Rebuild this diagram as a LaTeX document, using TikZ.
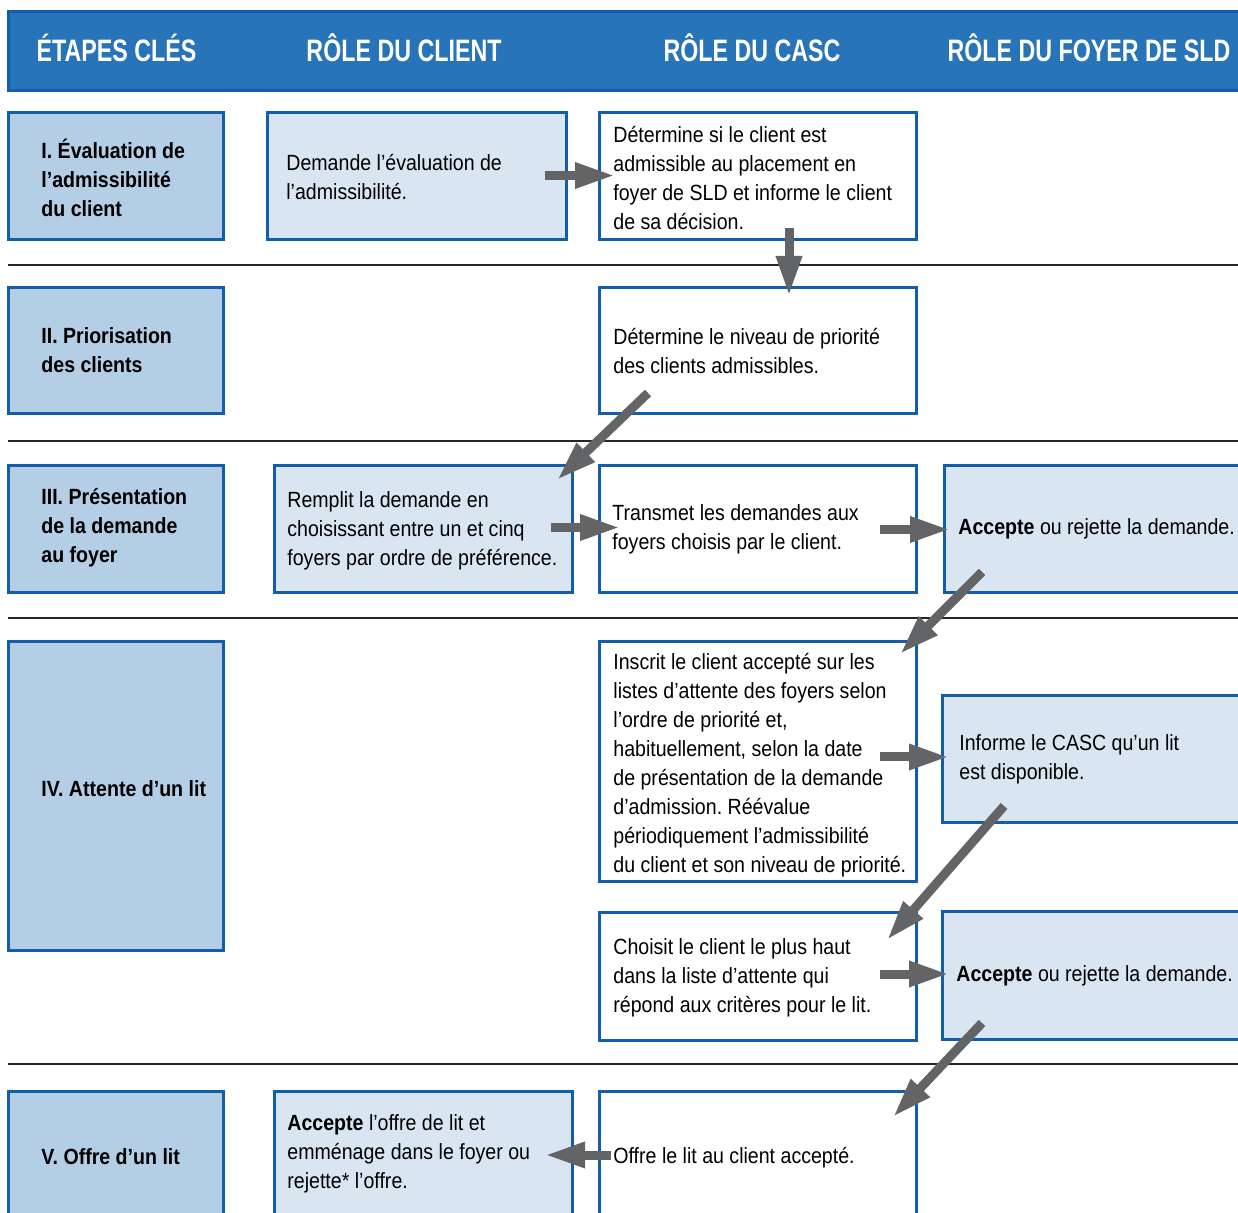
\documentclass[tikz,border=0pt]{standalone}
\usepackage{fontspec}
\setmainfont[FakeStretch=0.89]{Liberation Sans}
\newfontfamily\headfont[FakeStretch=0.75]{Liberation Sans}
\usetikzlibrary{arrows.meta, calc}
\definecolor{headblue}{RGB}{40,116,184}
\definecolor{edgeblue}{RGB}{18,94,170}
\definecolor{stagefill}{RGB}{180,206,229}
\definecolor{clientfill}{RGB}{217,230,242}
\definecolor{arrowgray}{RGB}{99,100,102}
\newcommand\bodysize{\fontsize{11}{14.5}\selectfont}
\frenchspacing

\begin{document}
\begin{tikzpicture}[x=0.5pt, y=-0.5pt,
		cell/.style={draw=edgeblue, line width=1.5pt, rectangle, anchor=north west, outer sep=0pt, inner sep=0pt},
		stagebox/.style={cell, fill=stagefill, minimum width=107.5pt},
		clientbox/.style={cell, fill=clientfill, minimum width=149pt},
		cascbox/.style={cell, fill=white, minimum width=158.5pt},
		foyerbox/.style={cell, fill=clientfill, minimum width=155pt},
		txt/.style={anchor=west, inner sep=0pt, align=left, font=\bodysize},
		stagetxt/.style={txt, font=\bodysize\bfseries},
		headtxt/.style={anchor=base, inner sep=0pt, text=white, font=\headfont\bfseries\fontsize{15.5}{18}\selectfont},
		sep/.style={line width=0.7pt, black!85},
		flow/.style={arrowgray, line width=4.5pt, -{Triangle[length=20pt, width=12pt]}}]
			\useasboundingbox (0,0) rectangle (1238,1213);
			\clip (0,0) rectangle (1238,1213);
			% Header band
			\node[cell, fill=headblue, minimum width=620pt, minimum height=39.5pt] (band) at (8,12) {};
			\node[headtxt] (h1) at (116.5,62) {ÉTAPES CLÉS};
			\node[headtxt] (h2) at (404,62) {RÔLE DU CLIENT};
			\node[headtxt] (h3) at (752,62) {RÔLE DU CASC};
			\node[headtxt] (h4) at (1089,62) {RÔLE DU FOYER DE SLD};
			% row separators
			\foreach \y in {265,441,618,1064}
				\draw[sep] (8,\y) -- (1238,\y);
			% Key steps
			\node[stagebox, minimum height=63.5pt] (st1) at (8,113) {};
			\node[stagetxt] (st1-t) at ($(st1.west)+(33,1)$) {I. Évaluation de\\l’admissibilité\\du client};
			\node[stagebox, minimum height=63pt] (st2) at (8,288) {};
			\node[stagetxt] (st2-t) at ($(st2.west)+(33,-1)$) {II. Priorisation\\des clients};
			\node[stagebox, minimum height=63.5pt] (st3) at (8,466) {};
			\node[stagetxt] (st3-t) at ($(st3.west)+(33,-2)$) {III. Présentation\\de la demande\\au foyer};
			\node[stagebox, minimum height=154pt] (st4) at (8,642) {};
			\node[stagetxt] (st4-t) at ($(st4.west)+(33,-7)$) {IV. Attente d’un lit};
			\node[stagebox, minimum height=66pt] (st5) at (8,1091) {};
			\node[stagetxt] (st5-t) at ($(st5.west)+(33,0)$) {V. Offre d’un lit};
			% Client
			\node[clientbox, minimum width=149.5pt, minimum height=63.5pt] (cli1) at (267,113) {};
			\node[txt] (cli1-t) at ($(cli1.west)+(19,1)$) {Demande l’évaluation de\\l’admissibilité.};
			\node[clientbox, minimum height=63.5pt] (cli3) at (274,466) {};
			\node[txt] (cli3-t) at ($(cli3.west)+(13,1)$) {Remplit la demande en\\choisissant entre un et cinq\\foyers par ordre de préférence.};
			\node[clientbox, minimum height=66pt] (cli5) at (274,1091) {};
			\node[txt] (cli5-t) at ($(cli5.west)+(13,-3)$) {\textbf{Accepte} l’offre de lit et\\emménage dans le foyer ou\\rejette* l’offre.};
			% CASC
			\node[cascbox, minimum height=63.5pt] (casc1) at (599,113) {};
			\node[txt] (casc1-t) at ($(casc1.west)+(14,2)$) {Détermine si le client est\\admissible au placement en\\foyer de SLD et informe le client\\de sa décision.};
			\node[cascbox, minimum height=63pt] (casc2) at (599,288) {};
			\node[txt] (casc2-t) at ($(casc2.west)+(14,0)$) {Détermine le niveau de priorité\\des clients admissibles.};
			\node[cascbox, minimum height=63.5pt] (casc3) at (599,466) {};
			\node[txt] (casc3-t) at ($(casc3.west)+(13,0)$) {Transmet les demandes aux\\foyers choisis par le client.};
			\node[cascbox, minimum height=120pt] (casc4a) at (599,642) {};
			\node[txt] (casc4a-t) at ($(casc4a.west)+(14,3)$) {Inscrit le client accepté sur les\\listes d’attente des foyers selon\\l’ordre de priorité et,\\habituellement, selon la date\\de présentation de la demande\\d’admission. Réévalue\\périodiquement l’admissibilité\\du client et son niveau de priorité.};
			\node[cascbox, minimum height=63.5pt] (casc4b) at (599,913) {};
			\node[txt] (casc4b-t) at ($(casc4b.west)+(14,1)$) {Choisit le client le plus haut\\dans la liste d’attente qui\\répond aux critères pour le lit.};
			\node[cascbox, minimum height=66pt] (casc5) at (599,1091) {};
			\node[txt] (casc5-t) at ($(casc5.west)+(14,1)$) {Offre le lit au client accepté.};
			% LTC home
			\node[foyerbox, minimum height=63.5pt] (foy3) at (944,466) {};
			\node[txt] (foy3-t) at ($(foy3.west)+(14,-1)$) {\textbf{Accepte} ou rejette la demande.};
			\node[foyerbox, minimum height=63.5pt] (foy4a) at (942,696) {};
			\node[txt] (foy4a-t) at ($(foy4a.west)+(17,0)$) {Informe le CASC qu’un lit\\est disponible.};
			\node[foyerbox, minimum height=63.5pt] (foy4b) at (942,912) {};
			\node[txt] (foy4b-t) at ($(foy4b.west)+(14,0)$) {\textbf{Accepte} ou rejette la demande.};
			% arrows
			\draw[flow] ($(cli1.east)+(-21,-1)$) -- ($(casc1.west)+(16,-1)$);
			\draw[flow] ($(casc1.south)+(31.5,-12)$) -- ($(casc2.north)+(31.5,8)$);
			\draw[flow] ($(casc2.south west)+(49,-21)$) -- ($(cli3.north east)+(-15,14)$);
			\draw[flow] ($(cli3.east)+(-21,-2)$) -- ($(casc3.west)+(21,-2)$);
			\draw[flow] ($(casc3.east)+(-36,0)$) -- ($(foy3.west)+(6,0)$);
			\draw[flow] ($(foy3.south west)+(38,-21)$) -- ($(casc4a.north east)+(-16,12)$);
			\draw[flow] ($(casc4a.east)+(-36,-5)$) -- ($(foy4a.west)+(7,-2.5)$);
			\draw[flow] ($(foy4a.south west)+(62,-17)$) -- ($(casc4b.north east)+(-29,27)$);
			\draw[flow] ($(casc4b.east)+(-36,-2.5)$) -- ($(foy4b.west)+(7,-1.5)$);
			\draw[flow] ($(foy4b.south west)+(40,-16)$) -- ($(casc5.north east)+(-23,26)$);
			\draw[flow] ($(casc5.west)+(12,-2)$) -- ($(cli5.east)+(-27,-2)$);
\end{tikzpicture}
\end{document}
